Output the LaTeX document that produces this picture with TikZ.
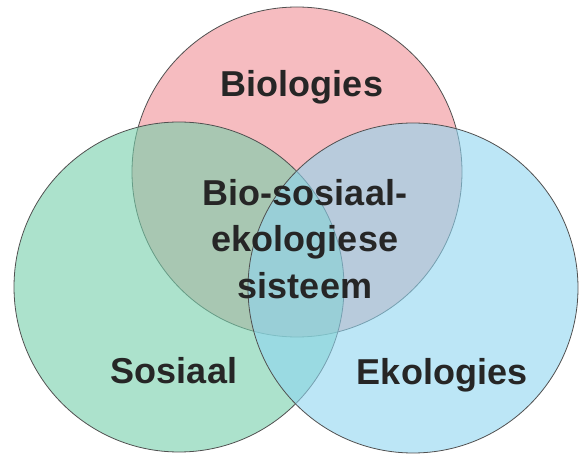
\documentclass[tikz,border=0pt]{standalone}
\usepackage{fontspec}
\setmainfont{Liberation Sans}
\definecolor{redc}{RGB}{246,188,192}
\definecolor{greenc}{RGB}{117,207,170}
\definecolor{bluec}{RGB}{143,213,240}
\definecolor{edgec}{RGB}{80,80,80}
\definecolor{textc}{RGB}{38,38,38}
\begin{document}
\begin{tikzpicture}[x=1pt,y=-1pt,
  circ/.style={circle, minimum size=330pt, inner sep=0pt, outer sep=0pt, draw=edgec, line width=0.8pt},
  lab/.style={font=\fontsize{36}{46.5}\selectfont\bfseries, text=textc, inner sep=0pt}]
\useasboundingbox (0,0) rectangle (579,454);
\node[circ, fill=redc] (bio) at (297,172) {};
\node[circ, fill=greenc, fill opacity=0.6] (sos) at (179,287) {};
\node[circ, fill=bluec, fill opacity=0.6] (eko) at (413,288) {};
\node[lab, anchor=base] (lbio) at (302,97) {Biologies};
\node[lab, anchor=base] (lsos) at (174,384) {Sosiaal};
\node[lab, anchor=base] (leko) at (442,385) {Ekologies};
\node[lab, align=center, anchor=center] (lmid) at (305,239) {Bio-sosiaal-\\ekologiese\\sisteem};
\end{tikzpicture}
\end{document}
